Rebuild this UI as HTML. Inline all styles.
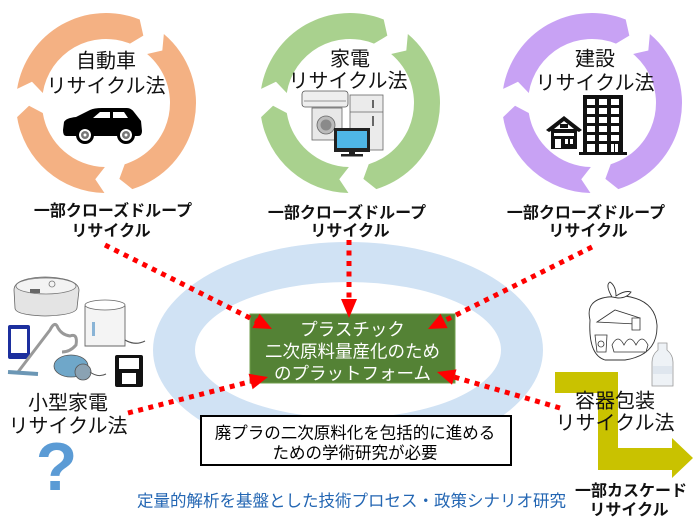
<!DOCTYPE html>
<html><head><meta charset="utf-8"><style>
html,body{margin:0;padding:0;background:#fff;}
svg{display:block;}
text{font-family:"Liberation Sans","Noto Sans CJK JP",sans-serif;}
.lb{font-size:20px;fill:#111;}
.cap{font-size:16px;font-weight:bold;fill:#111;}
</style></head><body>
<svg width="700" height="525" viewBox="0 0 700 525" xmlns="http://www.w3.org/2000/svg">
<rect width="700" height="525" fill="#fff"/>

<!-- ellipse ring -->
<path fill="#d0e2f4" fill-rule="evenodd" d="M153,350 a195,108 0 1,0 390,0 a195,108 0 1,0 -390,0 Z M195,350 a153,68 0 1,0 306,0 a153,68 0 1,0 -306,0 Z"/>

<!-- circular arrows -->
<g transform="translate(106,103)" fill="#f4b183">
<path d="M57.85,-68.94 A90,90 0 0 1 26.32,86.07 L13.37,75.83 L18.71,61.20 A64,64 0 0 0 41.14,-49.02 L56.32,-52.51 Z"/>
<path d="M-1.57,89.99 A90,90 0 0 1 -88.89,14.08 L-76.95,2.69 L-63.21,10.01 A64,64 0 0 0 -1.12,63.99 L-10.72,76.25 Z"/>
<path d="M-88.89,-14.08 A90,90 0 0 1 33.71,-83.45 L37.33,-67.34 L23.97,-59.34 A64,64 0 0 0 -63.21,-10.01 L-74.02,-21.22 Z"/>
</g>
<g transform="translate(350,103)" fill="#a9d18e">
<path d="M57.85,-68.94 A90,90 0 0 1 26.32,86.07 L13.37,75.83 L18.71,61.20 A64,64 0 0 0 41.14,-49.02 L56.32,-52.51 Z"/>
<path d="M-1.57,89.99 A90,90 0 0 1 -88.89,14.08 L-76.95,2.69 L-63.21,10.01 A64,64 0 0 0 -1.12,63.99 L-10.72,76.25 Z"/>
<path d="M-88.89,-14.08 A90,90 0 0 1 33.71,-83.45 L37.33,-67.34 L23.97,-59.34 A64,64 0 0 0 -63.21,-10.01 L-74.02,-21.22 Z"/>
</g>
<g transform="translate(592,103)" fill="#c8a2f4">
<path d="M57.85,-68.94 A90,90 0 0 1 26.32,86.07 L13.37,75.83 L18.71,61.20 A64,64 0 0 0 41.14,-49.02 L56.32,-52.51 Z"/>
<path d="M-1.57,89.99 A90,90 0 0 1 -88.89,14.08 L-76.95,2.69 L-63.21,10.01 A64,64 0 0 0 -1.12,63.99 L-10.72,76.25 Z"/>
<path d="M-88.89,-14.08 A90,90 0 0 1 33.71,-83.45 L37.33,-67.34 L23.97,-59.34 A64,64 0 0 0 -63.21,-10.01 L-74.02,-21.22 Z"/>
</g>

<!-- circle labels -->
<text class="lb" x="106" y="67.5" text-anchor="middle">自動車</text>
<text class="lb" x="106" y="92.5" text-anchor="middle">リサイクル法</text>
<text class="lb" x="350" y="65.5" text-anchor="middle">家電</text>
<text class="lb" x="348" y="87.5" text-anchor="middle">リサイクル法</text>
<text class="lb" x="595" y="65.5" text-anchor="middle">建設</text>
<text class="lb" x="595" y="89.5" text-anchor="middle">リサイクル法</text>

<text class="cap" x="113" y="216" text-anchor="middle">一部クローズドループ</text>
<text class="cap" x="111" y="236" text-anchor="middle">リサイクル</text>
<text class="cap" x="347" y="218" text-anchor="middle">一部クローズドループ</text>
<text class="cap" x="350" y="236" text-anchor="middle">リサイクル</text>
<text class="cap" x="586" y="218" text-anchor="middle">一部クローズドループ</text>
<text class="cap" x="588" y="236" text-anchor="middle">リサイクル</text>

<!-- car -->
<path fill="#000" d="M63,130 L64,122 Q66,118 76,117 L90,110 Q94,108 102,108 L127,108 Q131,108 134,112 L141,121 L142,131 Q142,136 138,136 L66,136 Q63,136 63,130 Z"/>
<path fill="#fff" d="M93,118 L100,112 L110,112 L110,118 Z M113,112 L124,112 L128,118 L113,118 Z"/>
<circle cx="85" cy="135" r="9" fill="#000"/><circle cx="85" cy="135" r="6" fill="#fff"/><circle cx="85" cy="135" r="4" fill="#777"/><circle cx="85" cy="135" r="1.5" fill="#fff"/>
<circle cx="126" cy="135" r="9" fill="#000"/><circle cx="126" cy="135" r="6" fill="#fff"/><circle cx="126" cy="135" r="4" fill="#777"/><circle cx="126" cy="135" r="1.5" fill="#fff"/>

<!-- home appliances -->
<rect x="302" y="91" width="46" height="16" rx="3" fill="#eee" stroke="#555" stroke-width="0.8"/>
<line x1="304" y1="101" x2="346" y2="101" stroke="#777" stroke-width="0.8"/>
<rect x="350" y="95" width="33" height="55" fill="#ebebeb" stroke="#666" stroke-width="0.8"/>
<line x1="350" y1="112" x2="383" y2="112" stroke="#666" stroke-width="0.8"/>
<rect x="372" y="100" width="2" height="8" fill="#666"/><rect x="372" y="116" width="2" height="10" fill="#666"/>
<rect x="312" y="108" width="30" height="32" fill="#e8e8e8" stroke="#666" stroke-width="0.8"/>
<circle cx="326" cy="125" r="9" fill="#bbb" stroke="#666" stroke-width="0.8"/><circle cx="326" cy="125" r="5.5" fill="#8a8a8a"/>
<rect x="334" y="128" width="36" height="24" fill="#222"/>
<rect x="337" y="131" width="30" height="17" fill="#4fb6e6"/>
<rect x="349" y="152" width="6" height="3" fill="#222"/><rect x="341" y="154" width="22" height="2.5" fill="#222"/>

<!-- buildings -->
<rect x="583" y="95" width="40" height="58" fill="#111"/>
<rect x="579" y="152" width="48" height="3" fill="#111"/>
<g fill="#fff">
<rect x="587" y="99" width="8" height="6"/><rect x="599" y="99" width="8" height="6"/><rect x="611" y="99" width="8" height="6"/>
<rect x="587" y="108" width="8" height="6"/><rect x="599" y="108" width="8" height="6"/><rect x="611" y="108" width="8" height="6"/>
<rect x="587" y="117" width="8" height="6"/><rect x="599" y="117" width="8" height="6"/><rect x="611" y="117" width="8" height="6"/>
<rect x="587" y="126" width="8" height="6"/><rect x="599" y="126" width="8" height="6"/><rect x="611" y="126" width="8" height="6"/>
<rect x="587" y="135" width="8" height="6"/><rect x="599" y="135" width="8" height="6"/><rect x="611" y="135" width="8" height="6"/>
<rect x="587" y="144" width="8" height="8"/><rect x="599" y="144" width="8" height="8"/><rect x="611" y="144" width="3" height="8"/><rect x="615" y="144" width="3" height="8"/>
</g>
<path fill="#111" d="M546,130 L564,116 L582,130 L579,132 L577,131 L577,149 L551,149 L551,131 L549,132 Z"/>
<path fill="#fff" d="M554,129 L564,121 L574,129 Z"/>
<rect x="560" y="124" width="8" height="4" fill="#111"/>
<rect x="554" y="133" width="20" height="3" fill="#fff"/>
<rect x="555" y="139" width="6" height="9" fill="#fff"/><rect x="565" y="139" width="3" height="5" fill="#fff"/><rect x="570" y="139" width="3" height="5" fill="#fff"/>

<!-- small appliances -->
<path d="M14,290 Q14,278 45,277 Q78,278 79,290 L77,308 Q76,315 45,316 Q15,315 15,308 Z" fill="#e4e4e4" stroke="#666" stroke-width="0.8"/>
<ellipse cx="46" cy="286" rx="30" ry="8" fill="#f3f3f3" stroke="#777" stroke-width="0.8"/>
<rect x="30" y="289" width="10" height="4" fill="#666"/>
<circle cx="52" cy="284" r="3" fill="none" stroke="#777" stroke-width="0.8"/>
<path d="M85,306 Q105,298 125,306 L125,346 L85,346 Z" fill="#f4f4f4" stroke="#666" stroke-width="0.9"/>
<ellipse cx="105" cy="305" rx="20" ry="5" fill="#fff" stroke="#666" stroke-width="0.8"/>
<rect x="92" y="322" width="3" height="14" fill="#8ab4d6"/>
<path d="M125,340 Q135,346 145,341" fill="none" stroke="#555" stroke-width="1.2"/>
<rect x="8" y="325" width="22" height="34" rx="2" fill="#1c2f9e"/>
<rect x="11" y="329" width="16" height="24" fill="#fff"/>
<path d="M18,372 L50,330 Q55,320 58,328 Q62,335 70,336 Q78,333 76,345 Q70,352 62,352" fill="none" stroke="#999" stroke-width="3"/>
<path d="M8,372 L38,374" stroke="#6c97b5" stroke-width="4"/>
<ellipse cx="71" cy="366" rx="17" ry="11" fill="#6fa7c9" stroke="#555" stroke-width="0.8"/>
<circle cx="83" cy="372" r="8" fill="#8aa2b3" stroke="#555" stroke-width="0.8"/>
<path d="M90,372 Q98,378 106,374" fill="none" stroke="#555" stroke-width="1"/>
<rect x="115" y="355" width="28" height="32" rx="2" fill="#111"/>
<rect x="119" y="358" width="20" height="11" fill="#fff"/>
<rect x="122" y="373" width="14" height="11" fill="#fff"/>

<text class="lb" x="68" y="409.5" text-anchor="middle">小型家電</text>
<text class="lb" x="68" y="432.5" text-anchor="middle">リサイクル法</text>
<text x="56.5" y="490" text-anchor="middle" style="font-family:'Liberation Sans',sans-serif;font-size:68px;font-weight:bold;fill:#5b9bd5;">?</text>

<!-- package -->
<path d="M590,320 Q585,300 608,297 L625,296 Q655,300 657,325 Q658,355 625,360 L605,360 Q588,355 590,320 Z" fill="#fff" stroke="#333" stroke-width="0.9"/>
<path d="M612,297 Q605,285 610,282 Q616,286 616,296 Q625,290 631,292 Q627,298 618,298 Z" fill="#fff" stroke="#333" stroke-width="0.9"/>
<path d="M597,322 L615,310 L640,318 L636,324 Z" fill="#fff" stroke="#333" stroke-width="0.8"/>
<path d="M595,335 L607,335 L606,352 L597,352 Z" fill="#fff" stroke="#333" stroke-width="0.8"/>
<circle cx="601" cy="344" r="3" fill="none" stroke="#333" stroke-width="0.8"/>
<path d="M612,345 Q618,333 624,345 Q630,333 636,345 Q642,333 648,345 L646,352 L614,352 Z" fill="#fff" stroke="#333" stroke-width="0.8"/>
<path d="M632,318 L632,330 L640,330 L640,318 Z" fill="#fff" stroke="#333" stroke-width="0.8"/>
<path d="M658,343 L667,343 L667,350 Q673,355 673,362 L673,386 L652,386 L652,362 Q652,355 658,350 Z" fill="#eef2f6" stroke="#999" stroke-width="0.8"/>
<rect x="653" y="366" width="19" height="8" fill="#dfe6ee"/>

<!-- yellow L arrow -->
<path fill="#c9c200" d="M555,372 L618,372 L618,448 L672,448 L672,438 L693,458 L672,478 L672,470 L598,470 L598,393 L555,393 Z"/>
<text class="lb" x="615" y="407.5" text-anchor="middle">容器包装</text>
<text class="lb" x="615" y="429.5" text-anchor="middle">リサイクル法</text>
<text class="cap" x="631" y="496" text-anchor="middle">一部カスケード</text>
<text class="cap" x="629" y="515" text-anchor="middle">リサイクル</text>

<!-- green box -->
<rect x="250" y="314" width="205" height="69" fill="#548235" stroke="#6f9e4c" stroke-width="1"/>
<text x="352.5" y="335.5" text-anchor="middle" style="font-size:17.5px;fill:#fff;">プラスチック</text>
<text x="352.5" y="357.5" text-anchor="middle" style="font-size:17.5px;fill:#fff;">二次原料量産化のため</text>
<text x="352.5" y="379.5" text-anchor="middle" style="font-size:17.5px;fill:#fff;">のプラットフォーム</text>

<!-- text box -->
<rect x="201" y="416" width="310" height="49" fill="#fff" stroke="#000" stroke-width="2"/>
<text x="355" y="438.3" text-anchor="middle" style="font-size:16.5px;fill:#000;">廃プラの二次原料化を包括的に進める</text>
<text x="355" y="458.3" text-anchor="middle" style="font-size:16.5px;fill:#000;">ための学術研究が必要</text>

<text x="351.5" y="506.3" text-anchor="middle" style="font-size:16.5px;fill:#2366b3;">定量的解析を基盤とした技術プロセス・政策シナリオ研究</text>

<!-- red dotted arrows -->
<g stroke="#ff0000" stroke-width="5" stroke-dasharray="5 5.5" fill="none">
<line x1="105" y1="245" x2="256" y2="321"/>
<line x1="349" y1="240" x2="349" y2="300"/>
<line x1="592" y1="247" x2="444" y2="321"/>
<line x1="128" y1="413" x2="251" y2="381.5"/>
<line x1="560" y1="408" x2="454" y2="377"/>
</g>
<g fill="#ff0000">
<polygon points="272,329 252.3,328 259.5,313.8"/>
<polygon points="349,318 341,299 357,299"/>
<polygon points="428,329 447.7,328.1 440.5,313.8"/>
<polygon points="268,377 252.6,389.2 248.6,373.8"/>
<polygon points="437,372 456.5,369.4 452,384.8"/>
</g>
</svg>
</body></html>
